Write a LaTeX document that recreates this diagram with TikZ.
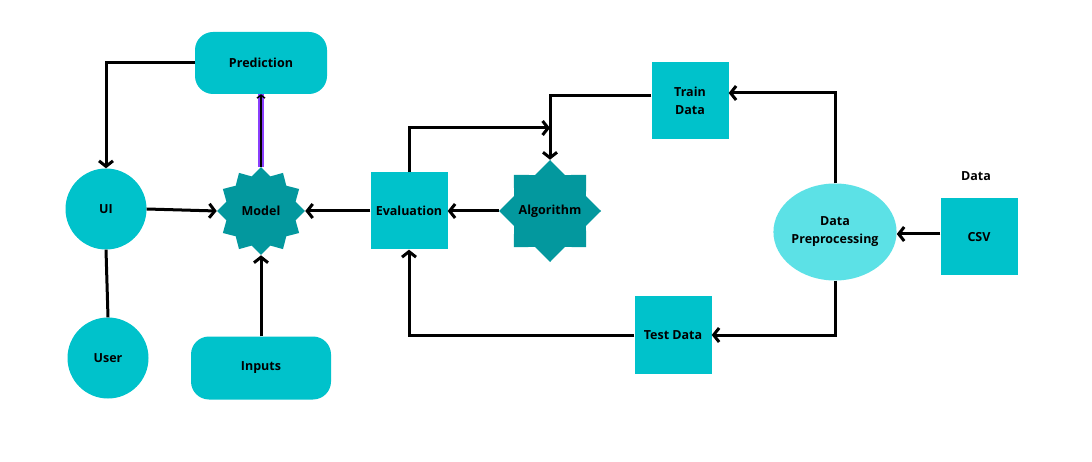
\documentclass[tikz,border=0pt]{standalone}
\usepackage{fontspec}
\setmainfont{Open Sans}
\usetikzlibrary{shapes.geometric,arrows.meta}
\definecolor{boxc}{HTML}{00C2CB}
\definecolor{starc}{HTML}{03989E}
\definecolor{ellc}{HTML}{5CE1E6}
\definecolor{purp}{HTML}{8A3FFC}
\begin{document}
\begin{tikzpicture}[x=1pt,y=-1pt,
  font=\fontsize{12.5}{18}\selectfont\bfseries,
  sq/.style={fill=boxc, minimum width=77pt, minimum height=77pt, inner sep=0pt, align=center},
  rbox/.style={fill=boxc, rounded corners=18pt, minimum width=132pt, minimum height=62pt, inner sep=0pt},
  circ/.style={circle, fill=boxc, minimum size=81pt, inner sep=0pt},
  starbox/.style={star, fill=starc, inner sep=0pt},
  tip/.style={-{Straight Barb[length=5.5pt,width=14pt]}},
  conn/.style={line width=3pt, tip}]
\fill[white] (0,0) rectangle (1092,462);
\useasboundingbox (0,0) rectangle (1092,462);

\node[rbox] (pred) at (261,63) {Prediction};
\node[circ] (ui) at (106,209) {UI};
\node[circ] (user) at (108,358) {User};
\node[rbox, minimum width=140pt, minimum height=63pt] (inp) at (261,368) {Inputs};
\node[starbox, star points=12, star point ratio=1.23, minimum size=88pt] (model) at (261,211) {};
\node (modeltxt) at (model.center) {Model};
\node[sq] (eval) at (409,211) {Evaluation};
\node[starbox, star points=8, star point ratio=1.31, minimum size=102pt] (algo) at (550,211) {};
\node (algotxt) at (algo.center) {Algorithm};
\node[sq] (train) at (690,101) {Train\\Data};
\node[sq] (test) at (673,335) {Test Data};
\node[ellipse, fill=ellc, minimum width=121pt, minimum height=97pt, inner sep=0pt, align=center] (prep) at (835,232) {Data\\Preprocessing};
\node[sq] (csv) at (979,237) {CSV};
\node (datal) at (976,176) {Data};

\coordinate (j1) at (550,128);

\draw[conn] (pred.west) -| (ui.north);
\draw[line width=3pt] (ui.south) -- (user.north);
\draw[conn] (ui.east) -- (model.west);
\draw[purp, line width=6pt] (model.north) -- (pred.south);
\draw[line width=1.5pt, -{Straight Barb[length=3pt,width=8pt]}] (model.north) -- (pred.south);
\draw[conn] (inp.north) -- (model.south);
\draw[conn] (eval.west) -- (model.east);
\draw[conn] (algo.west) -- (eval.east);
\draw[conn] (eval.north) |- (j1);
\draw[conn] ([yshift=5pt]train.west) -| (algo.north);
\draw[conn] (prep.north) |- ([yshift=8pt]train.east);
\draw[conn] (prep.south) |- (test.east);
\draw[conn] ([yshift=3pt]csv.west) -- ([yshift=3pt]csv.west -| prep.east);
\draw[conn] (test.west) -| (eval.south);
\end{tikzpicture}
\end{document}
